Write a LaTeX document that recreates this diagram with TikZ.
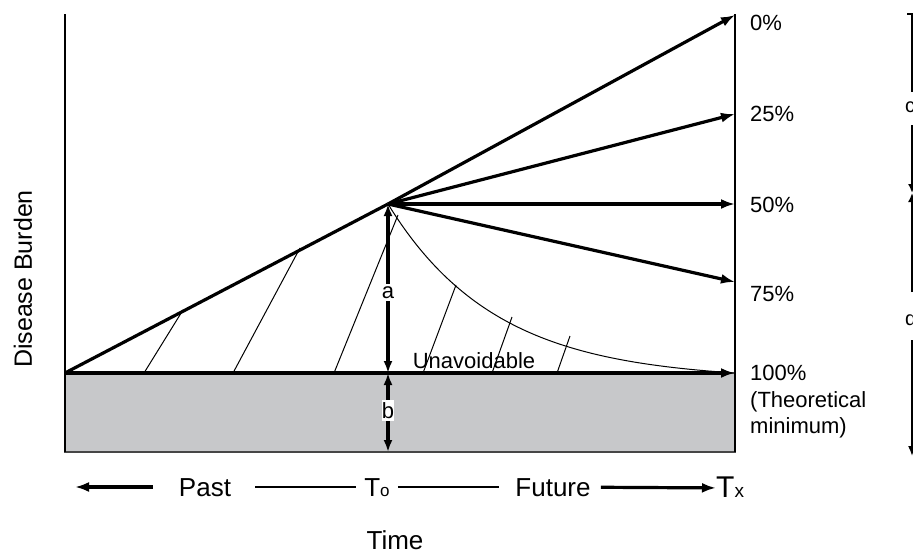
\documentclass[tikz,border=0pt]{standalone}
\usepackage{fontspec}
\setmainfont{Liberation Sans}
\usetikzlibrary{arrows.meta}

\definecolor{floorgray}{RGB}{199,200,202}
\definecolor{edgegray}{RGB}{70,70,70}

\begin{document}
\begin{tikzpicture}[x=1pt,y=-1pt,>={Latex[length=14pt,width=10pt]},
  heavy/.style={line width=3.2pt},
  hatch/.style={line width=1pt},
  frame/.style={line width=1.6pt},
  pct/.style={anchor=base west,inner sep=0pt,font=\fontsize{22}{26}\selectfont},
  timenode/.style={inner sep=0pt,text height=19pt,text depth=0pt,font=\fontsize{26}{30}\selectfont},
  letter/.style={fill=white,inner xsep=0pt,inner ysep=2pt,font=\fontsize{22}{26}\selectfont}]
  \useasboundingbox (0,0) rectangle (913,554);
  \clip (0,0) rectangle (913,554);

  % unavoidable part (b)
  \fill[floorgray] (65,373) rectangle (735,452);
  \draw[edgegray,frame] (65,373) rectangle (735,452);

  % axes
  \coordinate (lefttop) at (65,14);
  \coordinate (leftbot) at (65,452);
  \coordinate (righttop) at (735,14);
  \coordinate (rightbot) at (735,452);
  \draw[frame] (lefttop) -- (leftbot);
  \draw[frame] (righttop) -- (rightbot);

  % points
  \coordinate (orig) at (65,373);
  \coordinate (tzero) at (388,204);
  \coordinate (e0) at (735,15);
  \coordinate (e25) at (735,114);
  \coordinate (e50) at (735,204);
  \coordinate (e75) at (735,282);
  \coordinate (e100) at (735,373);
  \coordinate (floor) at (388,452);
  \coordinate (base) at (388,373);

  % hatching
  \draw[hatch] (144,373) -- (183,310);
  \draw[hatch] (233,373) -- (300,248);
  \draw[hatch] (334,373) -- (398,215);
  \draw[hatch] (423,373) -- (456,285);
  \draw[hatch] (492,373) -- (512,317);
  \draw[hatch] (557,373) -- (570,336);

  % decay curve
  \draw[hatch] plot[domain=388:730,samples=80]
    (\x,{373-169*(exp(-(\x-388)/108)-0.04)/0.96});

  % trend and scenarios
  \draw[heavy] (orig) -- (tzero);
  \path[heavy,->]
    (tzero) edge (e0)
    (tzero) edge (e25)
    (tzero) edge (e50)
    (tzero) edge (e75)
    (orig) edge (e100);

  % a and b
  \draw[heavy,<->,>={Latex[length=12pt,width=9pt]}] (base) -- node[letter,yshift=-4pt] (alab) {a} (tzero);
  \draw[heavy,<->,>={Latex[length=12pt,width=9pt]}] (base) -- node[letter,yshift=2pt] (blab) {b} (floor);
  \node[anchor=base,inner sep=0pt,font=\fontsize{22}{26}\selectfont] (unav) at (474,368) {Unavoidable};

  % percent labels
  \node[pct] (p0) at (750,30) {0\%};
  \node[pct] (p25) at (750,121) {25\%};
  \node[pct] (p50) at (750,212) {50\%};
  \node[pct] (p75) at (750,301) {75\%};
  \node[pct] (p100) at (750,380) {100\%};
  \node[pct] (theo) at (750,407) {(Theoretical};
  \node[pct] (mini) at (750,433) {minimum)};

  % y label
  \node[rotate=90,inner sep=0pt,font=\fontsize{25}{28}\selectfont] (burden) at (23,279) {Disease Burden};

  % time axis
  \coordinate (tleft) at (75,487);
  \node[timenode] (past) at (205,487) {Past};
  \node[timenode] (tnow) at (377,487) {T{\fontsize{17}{17}\selectfont o}};
  \node[timenode] (future) at (553,487) {Future};
  \node[timenode,anchor=west] (tend) at (716,488) {\fontsize{30}{32}\selectfont T{\fontsize{19}{19}\selectfont x}};
  \draw[heavy,->,shorten <=26pt] (past) -- (tleft);
  \draw[frame,shorten <=24pt,shorten >=8pt] (past) -- (tnow);
  \draw[frame,shorten <=8pt,shorten >=16pt] (tnow) -- (future);
  \draw[heavy,->,shorten <=10pt] (future) -- (tend);
  \node[anchor=base,inner sep=0pt,font=\fontsize{26}{30}\selectfont] (timelbl) at (395,549) {Time};

  % cut-off part at the right edge
  \draw[frame] (907,14) -- (912,14) -- (912,92);
  \draw[frame,->,>={Latex[length=9pt,width=8pt]}] (912,125) -- (912,193);
  \draw[frame,->,>={Latex[length=9pt,width=8pt]}] (912,292) -- (912,193);
  \draw[frame,->,>={Latex[length=10pt,width=8pt]}] (912,340) -- (912,456);
  \node[anchor=west,inner sep=0pt,font=\fontsize{20}{24}\selectfont] (cfrag) at (905,107) {c};
  \node[anchor=west,inner sep=0pt,font=\fontsize{20}{24}\selectfont] (dfrag) at (905,318) {d};
\end{tikzpicture}
\end{document}
